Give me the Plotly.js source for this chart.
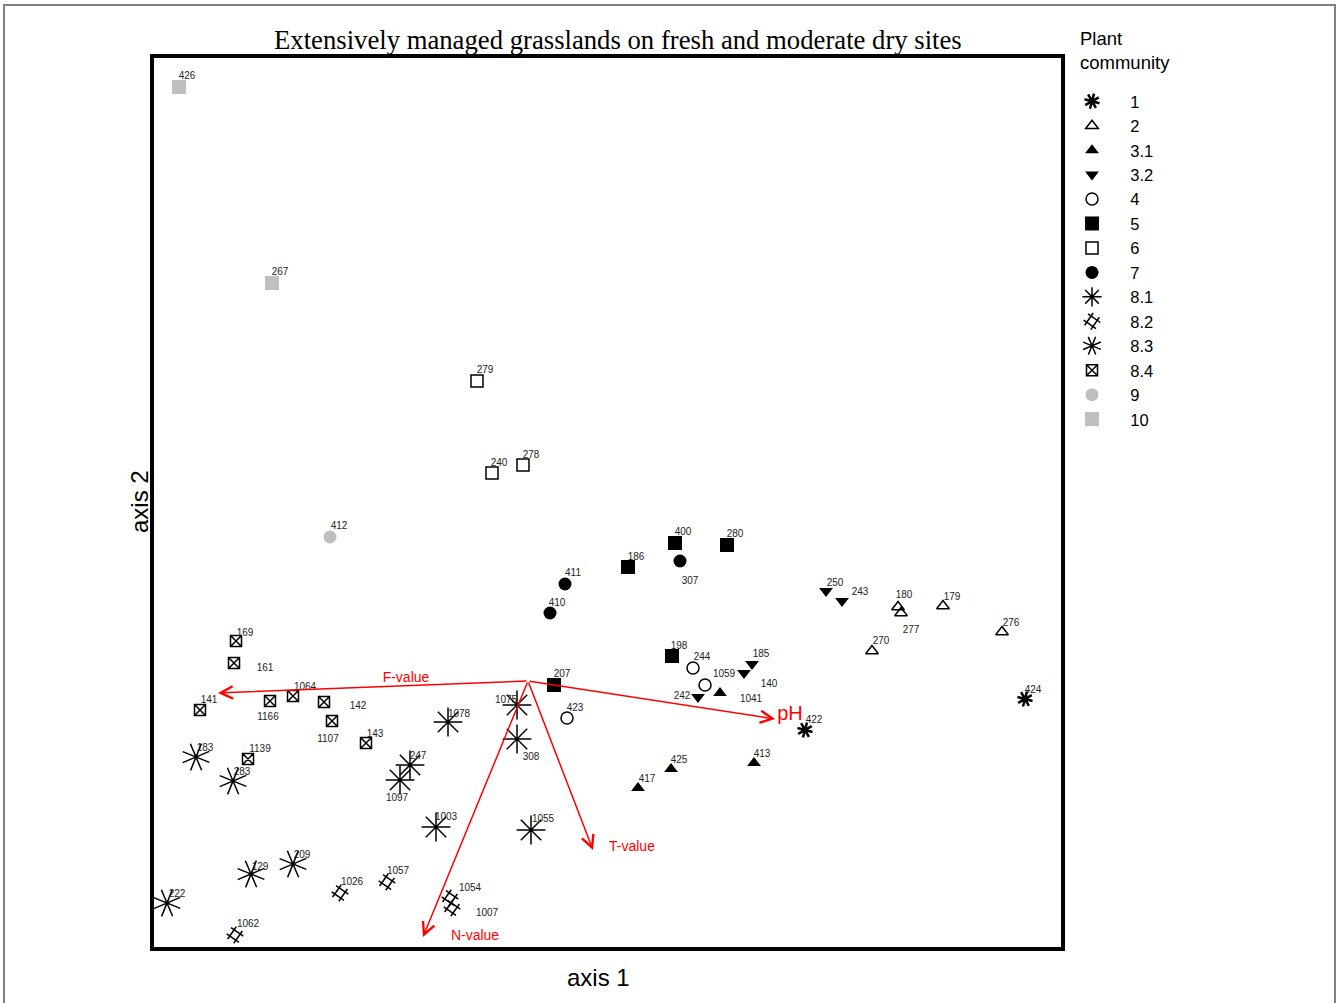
<!DOCTYPE html>
<html>
<head>
<meta charset="utf-8">
<script src="https://cdn.plot.ly/plotly-3.0.1.min.js"></script>
<style>
html,body{margin:0;padding:0;background:#fff;}
#chart{width:1337px;height:1003px;}
</style>
</head>
<body>
<div id="chart"></div>
<script>
// Ordination scores (arbitrary axis units)
// Plant community groups
const groups = ["1","2","3.1","3.2","4","5","6","7","8.1","8.2","8.3","8.4","9","10"];

const g1_ids = ["422","424"];
const g1_x = [651, 871];
const g1_y = [217, 248];

const g2_ids = ["180","277","179","276","270"];
const g2_x = [744, 747, 789, 848, 718];
const g2_y = [340, 334, 341, 315, 296];

const g31_ids = ["1041","425","417","413"];
const g31_x = [566, 517, 484, 600];
const g31_y = [254, 178, 159, 184];

const g32_ids = ["250","243","185","140","242"];
const g32_x = [672, 688, 598, 590, 544];
const g32_y = [356, 346, 283, 274, 250];

const g4_ids = ["244","1059","423"];
const g4_x = [539, 551, 413];
const g4_y = [279, 262, 229];

const g5_ids = ["400","280","186","198","207"];
const g5_x = [521, 573, 474, 518, 400];
const g5_y = [404, 402, 380, 291, 262];

const g6_ids = ["279","240","278"];
const g6_x = [323, 338, 369];
const g6_y = [566, 474, 482];

const g7_ids = ["307","411","410"];
const g7_x = [526, 411, 396];
const g7_y = [386, 363, 334];

const g81_ids = ["1078","1075","308","247","1097","1003","1055"];
const g81_x = [294, 363, 363, 256, 246, 282, 377];
const g81_y = [225, 242, 208, 182, 167, 120, 117];

const g82_ids = ["1026","1057","1054","1007","1062"];
const g82_x = [186, 233, 296, 298, 81];
const g82_y = [54, 65, 49, 39, 12];

const g83_ids = ["183","283","222","129","209"];
const g83_x = [42, 79, 13, 97, 139];
const g83_y = [190, 166, 44, 73, 83];

const g84_ids = ["169","161","141","1166","1064","142","1107","143","1139"];
const g84_x = [82, 80, 46, 116, 139, 170, 178, 212, 94];
const g84_y = [306, 284, 237, 246, 251, 245, 226, 204, 188];

const g9_ids = ["412"];
const g9_x = [176];
const g9_y = [410];

const g10_ids = ["426","267"];
const g10_x = [25, 118];
const g10_y = [860, 664];

// Site label positions (text centres)
const lab_text = ["422","424","180","277","179","276","270","1041","425","417","413",
  "250","243","185","140","242","244","1059","423","400","280","186","198","207",
  "279","240","278","307","411","410","1078","1075","308","247","1097","1003","1055",
  "1026","1057","1054","1007","1062","183","283","222","129","209",
  "169","161","141","1166","1064","142","1107","143","1139","412","426","267"];
const lab_x = [660,879,750,757,798,857,727,597,525,493,608,
  681,706,607,615,528,548,570,421,529,581,482,525,408,
  331,345,377,536,419,403,305,352,377,264,243,292,389,
  198,244,316,333,94,51,88,23,106,148,
  91,111,55,114,151,204,174,221,106,185,33,126];
const lab_y = [227,257,352,317,350,324,306,248,187,168,193,
  364,355,293,263,251,290,273,239,415,413,390,301,273,
  577,484,492,366,374,344,233,247,190,191,149,130,128,
  65,76,59,34,23,199,175,53,80,92,
  314,279,247,230,260,241,208,213,198,421,871,675];

// Environmental fitted vectors
const env_names = ["F-value","pH","T-value","N-value"];
const env_origin_x = 374;
const env_origin_y = 266;
const env_tip_x = [64, 621, 439, 269];
const env_tip_y = [254, 228, 97, 10];
const env_lab_x = [252, 636, 478, 321];
const env_lab_y = [269, 232, 100, 11];
const env_lab_size = [14, 20, 14, 14];

const xs = [g1_x,g2_x,g31_x,g32_x,g4_x,g5_x,g6_x,g7_x,g81_x,g82_x,g83_x,g84_x,g9_x,g10_x];
const ys = [g1_y,g2_y,g31_y,g32_y,g4_y,g5_y,g6_y,g7_y,g81_y,g82_y,g83_y,g84_y,g9_y,g10_y];
const ids = [g1_ids,g2_ids,g31_ids,g32_ids,g4_ids,g5_ids,g6_ids,g7_ids,g81_ids,g82_ids,g83_ids,g84_ids,g9_ids,g10_ids];

const styles = [
  {symbol:"asterisk-open", size:13, color:"#000", lw:2.5, angle:15},
  {symbol:"triangle-up-open", size:11, color:"#000", lw:1.5, angle:0},
  {symbol:"triangle-up", size:12, color:"#000", lw:0, angle:0},
  {symbol:"triangle-down", size:12, color:"#000", lw:0, angle:0},
  {symbol:"circle-open", size:12, color:"#000", lw:1.5, angle:0},
  {symbol:"square", size:14, color:"#000", lw:0, angle:0},
  {symbol:"square-open", size:12, color:"#000", lw:1.5, angle:0},
  {symbol:"circle", size:13, color:"#000", lw:0, angle:0},
  {symbol:"asterisk-open", size:24, color:"#000", lw:1.5, angle:0},
  {symbol:"hash-open", size:15, color:"#000", lw:1.5, angle:35},
  {symbol:"asterisk-open", size:24, color:"#000", lw:1.5, angle:22},
  {symbol:"square-x-open", size:11, color:"#000", lw:1.5, angle:0},
  {symbol:"circle", size:13, color:"#bfbfbf", lw:0, angle:0},
  {symbol:"square", size:14, color:"#bfbfbf", lw:0, angle:0}
];

const pad = "\u00a0\u00a0\u00a0\u00a0";
const traces = groups.map((g,i)=>({
  type:"scatter", mode:"markers", name:pad + g,
  x:xs[i], y:ys[i], text:ids[i], hoverinfo:"text",
  marker:{symbol:styles[i].symbol, size:styles[i].size, color:styles[i].color,
    angle:styles[i].angle, line:{color:styles[i].color, width:styles[i].lw}},
  cliponaxis:false
}));

traces.push({
  type:"scatter", mode:"text", x:lab_x, y:lab_y, text:lab_text,
  textfont:{family:"Arial, Liberation Sans, sans-serif", size:10, color:"#222"},
  showlegend:false, hoverinfo:"skip", cliponaxis:false
});

traces.push({
  type:"scatter", mode:"text", x:env_lab_x, y:env_lab_y, text:env_names,
  textfont:{family:"Arial, Liberation Sans, sans-serif", size:env_lab_size, color:"#ff0000"},
  showlegend:false, hoverinfo:"skip", cliponaxis:false
});

const annotations = env_names.map((n,i)=>({
  x:env_tip_x[i], y:env_tip_y[i], xref:"x", yref:"y",
  ax:env_origin_x, ay:env_origin_y, axref:"x", ayref:"y",
  showarrow:true, arrowhead:5, arrowsize:1.6, arrowwidth:1.5, arrowcolor:"#ff0000",
  standoff:0, startstandoff:0, text:""
}));

annotations.push({
  text:"Extensively managed grasslands on fresh and moderate dry sites",
  xref:"paper", yref:"paper", x:(618-154)/907, y:(947-40)/889,
  xanchor:"center", yanchor:"middle", showarrow:false,
  font:{family:"Liberation Serif, Times New Roman, serif", size:26.7, color:"#000"}
});
annotations.push({
  text:"Plant<br>community", align:"left",
  xref:"paper", yref:"paper", x:(1078-154)/907, y:(947-26)/889,
  xanchor:"left", yanchor:"top", showarrow:false,
  font:{size:18.5, color:"#000"}
});
annotations.push({
  text:"axis 1", xref:"paper", yref:"paper", x:(598-154)/907, y:(947-977)/889,
  xanchor:"center", yanchor:"middle", showarrow:false, font:{size:24, color:"#000"}
});
annotations.push({
  text:"axis 2", xref:"paper", yref:"paper", x:(139-154)/907, y:(947-502)/889,
  xanchor:"center", yanchor:"middle", showarrow:false, textangle:-90,
  font:{size:24, color:"#000"}
});

const shapes = [{
  type:"rect", xref:"paper", yref:"paper",
  x0:(4-154)/907, x1:(1335-154)/907, y0:(947-1012)/889, y1:(947-5)/889,
  line:{color:"#808080", width:2}, fillcolor:"rgba(0,0,0,0)", layer:"below"
}];

const layout = {
  width:1337, height:1003,
  margin:{l:154, r:276, t:58, b:56, pad:0},
  paper_bgcolor:"#fff", plot_bgcolor:"#fff",
  font:{family:"Arial, Liberation Sans, sans-serif", color:"#000"},
  xaxis:{range:[0,907], showgrid:false, zeroline:false, showticklabels:false, ticks:"",
    showline:true, mirror:true, linecolor:"#000", linewidth:4, fixedrange:true,
    title:{text:""}},
  yaxis:{range:[0,889], showgrid:false, zeroline:false, showticklabels:false, ticks:"",
    showline:true, mirror:true, linecolor:"#000", linewidth:4, fixedrange:true,
    title:{text:""}},
  legend:{x:(1072-154)/907, y:(947-84)/889, xanchor:"left", yanchor:"top",
    font:{size:16.5, color:"#000"}, bgcolor:"rgba(0,0,0,0)", itemwidth:30,
    tracegroupgap:0, itemclick:false, itemdoubleclick:false},
  showlegend:true,
  annotations:annotations,
  shapes:shapes
};

Plotly.newPlot("chart", traces, layout, {displayModeBar:false, staticPlot:true});
</script>
</body>
</html>
